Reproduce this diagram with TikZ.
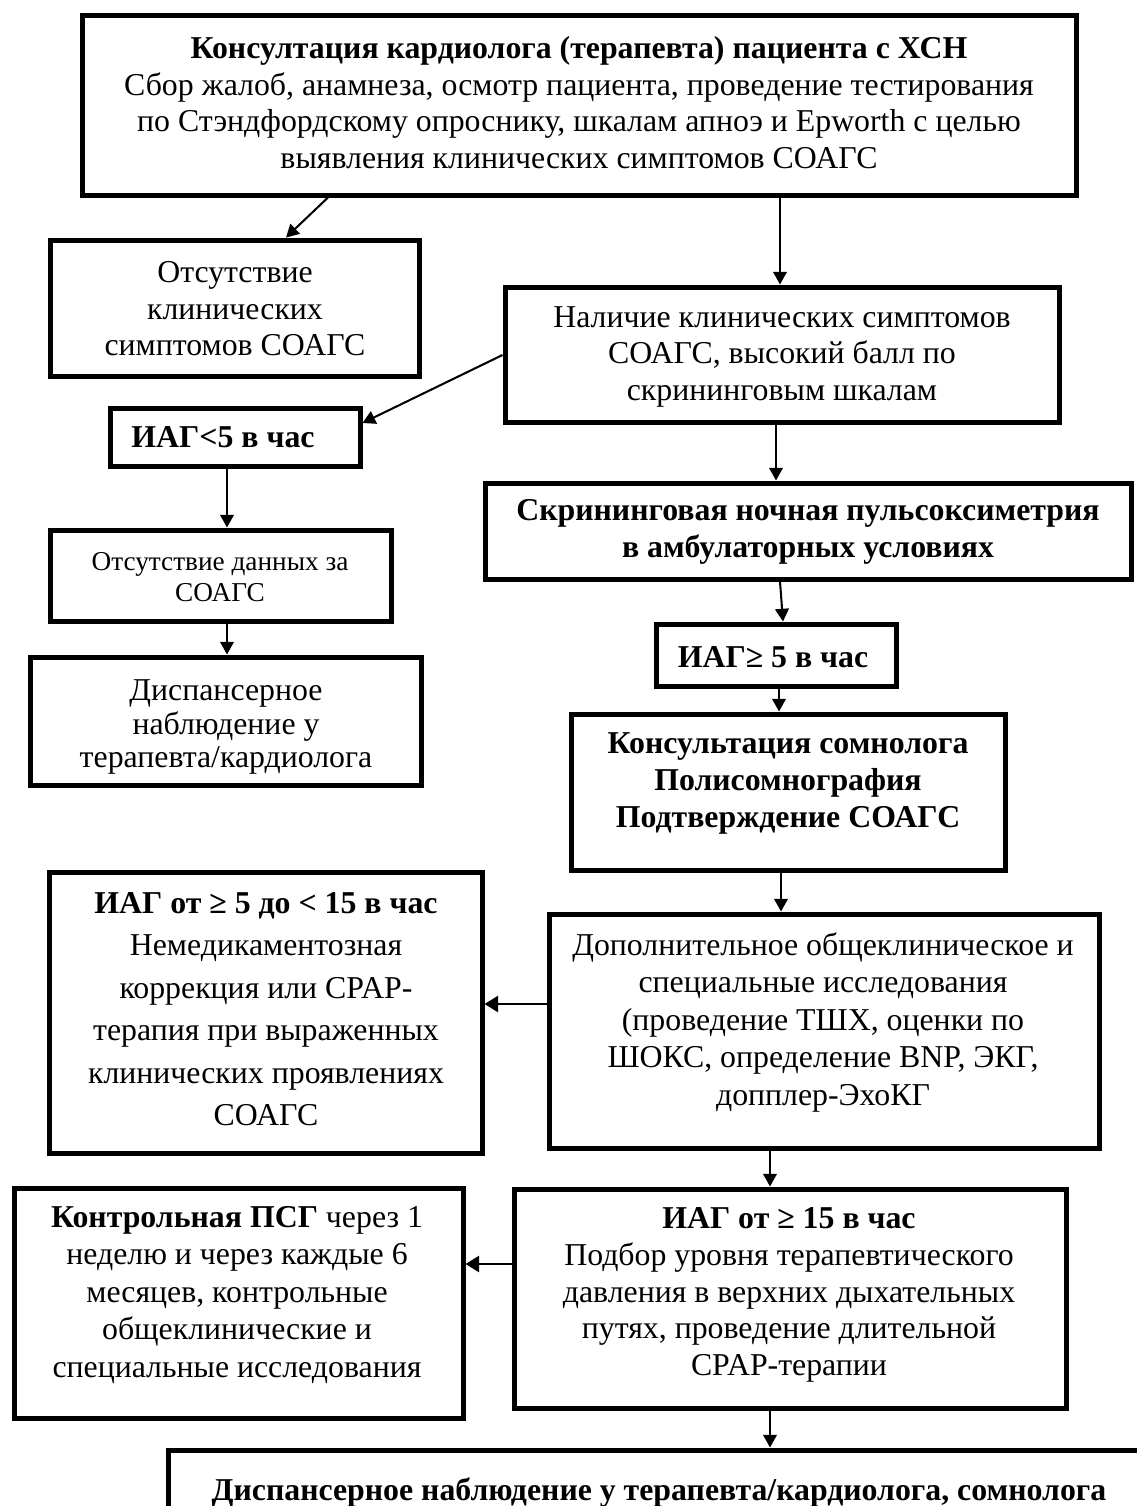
\documentclass[tikz,border=0pt]{standalone}
\usepackage{fontspec}
\setmainfont{Liberation Serif}
\usetikzlibrary{arrows.meta,fit}
\tikzset{
  box/.style={draw, line width=2.2pt, inner sep=0pt},
  txt/.style={align=center, inner sep=0pt, font=\fontsize{14}{16.06}\selectfont},
  arr/.style={line width=0.9pt, -{Triangle[length=5.6pt,width=6pt]}},
  arrb/.style={line width=1.3pt, -{Triangle[length=6pt,width=7pt]}}
}
\begin{document}
\begin{tikzpicture}[x=0.44pt,y=-0.44pt]
\useasboundingbox (0,0) rectangle (1137,1506);
\clip (0,0) rectangle (1137,1506);
\fill[white] (0,0) rectangle (1137,1506);

% boxes
\node[box, fit={(82,15) (1076,195)}] (top) {};
\node[box, fit={(50,240) (419,376)}] (otsut) {};
\node[box, fit={(505,287) (1059,422)}] (nal) {};
\node[box, fit={(110,408) (360,466)}] (iag5) {};
\node[box, fit={(50,530) (391,621)}] (otd) {};
\node[box, fit={(30,657) (421,785)}] (disp) {};
\node[box, fit={(485,483) (1131,579)}] (scr) {};
\node[box, fit={(656,624) (896,686)}] (iagge5) {};
\node[box, fit={(571,714) (1005,870)}] (som) {};
\node[box, fit={(49,872) (482,1153)}] (iag515) {};
\node[box, fit={(549,914) (1099,1148)}] (dop) {};
\node[box, fit={(14,1188) (463,1418)}] (kontr) {};
\node[box, fit={(514,1189) (1066,1408)}] (iag15) {};
\node[box, fit={(168,1450) (1170,1540)}] (fin) {};

% texts
\node[txt] (t-top) at (579,102.5) {\textbf{Консултация кардиолога (терапевта) пациента с ХСН}\\
Сбор жалоб, анамнеза, осмотр пациента, проведение тестирования\\
по Стэндфордскому опроснику, шкалам апноэ и Epworth с целью\\
выявления клинических симптомов СОАГС};
\node[txt] (t-otsut) at (235,309) {Отсутствие\\клинических\\симптомов СОАГС};
\node[txt] (t-nal) at (782,356.5) {Наличие клинических симптомов\\СОАГС, высокий балл по\\скрининговым шкалам};
\node[txt, font=\fontsize{14}{16.06}\selectfont\bfseries] (t-iag5) at (223,437) {ИАГ<5 в час};
\node[txt, font=\fontsize{12}{13.6}\selectfont] (t-otd) at (220,577.5) {Отсутствие данных за\\СОАГС};
\node[txt, font=\fontsize{14}{14.8}\selectfont] (t-disp) at (226,727) {Диспансерное\\наблюдение у\\терапевта/кардиолога};
\node[txt, font=\fontsize{14}{16.3}\selectfont\bfseries] (t-scr) at (808,531.5) {Скрининговая ночная пульсоксиметрия\\в амбулаторных условиях};
\node[txt, font=\fontsize{14}{16.06}\selectfont\bfseries] (t-iagge5) at (773,657) {ИАГ≥ 5 в час};
\node[txt, font=\fontsize{14}{16.1}\selectfont\bfseries] (t-som) at (788,783.5) {Консультация сомнолога\\Полисомнография\\Подтверждение СОАГС};
\node[txt, font=\fontsize{14}{18.7}\selectfont] (t-iag515) at (266,1009) {\textbf{ИАГ от ≥ 5 до < 15 в час}\\Немедикаментозная\\коррекция или CPAP-\\терапия при выраженных\\клинических проявлениях\\СОАГС};
\node[txt, font=\fontsize{14}{16.5}\selectfont] (t-dop) at (823,1022) {Дополнительное общеклиническое и\\специальные исследования\\(проведение ТШХ, оценки по\\ШОКС, определение BNP, ЭКГ,\\допплер-ЭхоКГ};
\node[txt, font=\fontsize{14}{16.5}\selectfont] (t-kontr) at (237,1295) {\textbf{Контрольная ПСГ} через 1\\неделю и через каждые 6\\месяцев, контрольные\\общеклинические и\\специальные исследования};
\node[txt, font=\fontsize{14}{16.1}\selectfont] (t-iag15) at (789,1295) {\textbf{ИАГ от ≥ 15 в час}\\Подбор уровня терапевтического\\давления в верхних дыхательных\\путях, проведение длительной\\CPAP-терапии};
\node[txt, font=\fontsize{14}{16.06}\selectfont\bfseries] (t-fin) at (659,1493) {Диспансерное наблюдение у терапевта/кардиолога, сомнолога};

% helper coordinates
\coordinate (c328) at (328,0);
\coordinate (c286) at (286,0);
\coordinate (c780) at (780,0);
\coordinate (c783) at (783,0);
\coordinate (c776) at (776,0);
\coordinate (c779) at (779,0);
\coordinate (c781) at (781,0);
\coordinate (c227) at (227,0);
\coordinate (c770) at (770,0);
\coordinate (r355) at (0,355);
\coordinate (r423) at (0,423);
\coordinate (r1004) at (0,1004);
\coordinate (r1264) at (0,1264);

% connectors
\draw[arr] (top.south -| c328) -- (otsut.north -| c286);
\draw[arr] (top.south -| c780) -- (nal.north -| c780);
\draw[arr] (nal.west |- r355) -- (iag5.east |- r423);
\draw[arr] (iag5.south -| c227) -- (otd.north -| c227);
\draw[arr] (otd.south -| c227) -- (disp.north -| c227);
\draw[arr] (nal.south -| c776) -- (scr.north -| c776);
\draw[arr] (scr.south -| c780) -- (iagge5.north -| c783);
\draw[arr] (iagge5.south -| c779) -- (som.north -| c779);
\draw[arr] (som.south -| c781) -- (dop.north -| c781);
\draw[arrb] (dop.west |- r1004) -- (iag515.east |- r1004);
\draw[arr] (dop.south -| c770) -- (iag15.north -| c770);
\draw[arrb] (iag15.west |- r1264) -- (kontr.east |- r1264);
\draw[arr] (iag15.south -| c770) -- (fin.north -| c770);
\end{tikzpicture}
\end{document}
